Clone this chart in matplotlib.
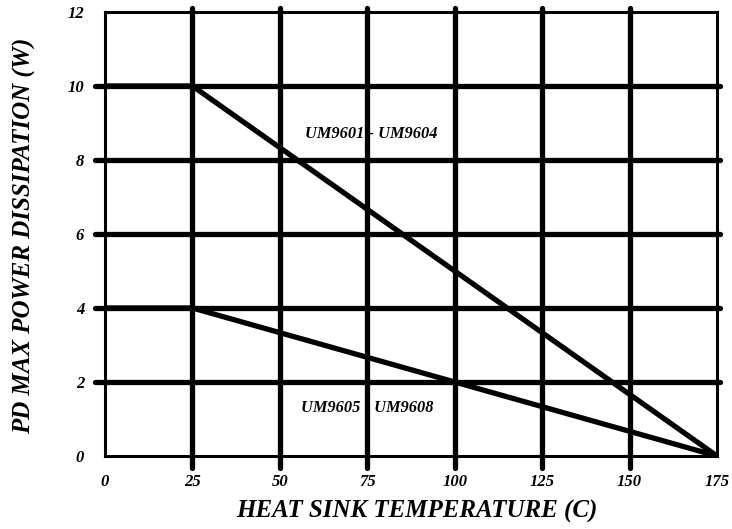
import matplotlib
matplotlib.use("Agg")
import matplotlib.pyplot as plt

# Data
temps = [0, 25, 175]
pd_9601_9604 = [10, 10, 0]
pd_9605_9608 = [4, 4, 0]
x_ticks = [0, 25, 50, 75, 100, 125, 150, 175]
y_ticks = [0, 2, 4, 6, 8, 10, 12]
label_hi = "UM9601 - UM9604"
label_lo = "UM9605 - UM9608"
label_hi_pos = (76, 8.7)
label_lo_pos = (75, 1.3)

serif = ["Liberation Serif", "DejaVu Serif"]

fig = plt.figure(figsize=(7.32, 5.29), dpi=100)
ax = fig.add_axes([105/732, 1-456/529, 612/732, 444/529])
ax.set_xlim(0, 175)
ax.set_ylim(0, 12)

for s in ax.spines.values():
    s.set_linewidth(2.2)
    s.set_color("black")

# grid lines (thick, extending slightly beyond frame)
for xv in x_ticks[1:-1]:
    ax.axvline(xv, ymin=-0.027, ymax=1.009, color="black", lw=3.8,
               solid_capstyle="round", clip_on=False, zorder=3)
for yv in y_ticks[1:-1]:
    ax.axhline(yv, xmin=-0.017, xmax=1.005, color="black", lw=3.8,
               solid_capstyle="round", clip_on=False, zorder=3)

ax.plot(temps, pd_9601_9604, color="black", lw=3.8, zorder=4,
        solid_capstyle="round")
ax.plot(temps, pd_9605_9608, color="black", lw=3.8, zorder=4,
        solid_capstyle="round")

ax.text(*label_hi_pos, label_hi, ha="center", va="center", fontsize=11.8,
        family=serif, fontweight="bold", fontstyle="italic", zorder=2)
ax.text(*label_lo_pos, label_lo, ha="center", va="center", fontsize=11.8,
        family=serif, fontweight="bold", fontstyle="italic", zorder=2)

ax.set_xticks(x_ticks)
ax.set_yticks(y_ticks)
ax.set_xticklabels([str(v) for v in x_ticks])
ax.set_yticklabels([str(v) for v in y_ticks])
ax.tick_params(length=0)
ax.tick_params(axis="y", pad=15)
ax.tick_params(axis="x", pad=13)
for lab in ax.get_xticklabels() + ax.get_yticklabels():
    lab.set_family(serif)
    lab.set_fontweight("bold")
    lab.set_fontstyle("italic")
    lab.set_fontsize(12)

ax.set_xlabel("HEAT SINK TEMPERATURE (C)", family=serif, fontweight="bold",
              fontstyle="italic", fontsize=18)
ax.set_ylabel("PD MAX POWER DISSIPATION (W)", family=serif, fontweight="bold",
              fontstyle="italic", fontsize=18)
ax.xaxis.set_label_coords(0.51, -0.125)
ax.xaxis.label.set_verticalalignment("center")
ax.yaxis.set_label_coords(-0.131, 0.495)
ax.yaxis.label.set_verticalalignment("center")

fig.savefig("out.png", dpi=100)
